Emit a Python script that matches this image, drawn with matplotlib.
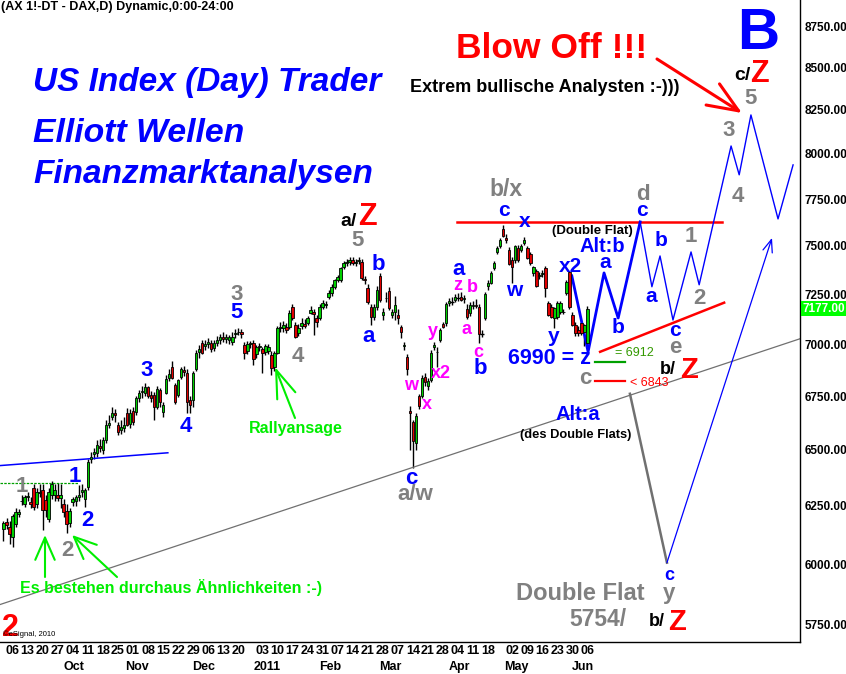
import numpy as np
import matplotlib
matplotlib.use("Agg")
import matplotlib.pyplot as plt
from matplotlib.ticker import FixedLocator, NullLocator
from matplotlib.transforms import blended_transform_factory

plt.rcParams['font.family'] = ['Liberation Sans', 'DejaVu Sans']

# ---------------- data (daily FDAX candles, Sep 2010 - Jun 2011) ----------------
opens = [6150, 6180, 6160, 6113, 6169, 6215, 6270, 6256, 6287, 6265,
         6327, 6256, 6305, 6318, 6274, 6191, 6300, 6300, 6300, 6285,
         6256, 6226, 6175, 6265, 6270, 6290, 6309, 6280, 6335, 6460,
         6480, 6488, 6520, 6501, 6547, 6615, 6653, 6672, 6616, 6590,
         6600, 6672, 6620, 6680, 6677, 6742, 6770, 6766, 6794, 6757,
         6757, 6700, 6780, 6677, 6766, 6835, 6890, 6804, 6757, 6842,
         6875, 6862, 6733, 6733, 6881, 6960, 7007, 6990, 7000, 7007,
         6980, 7005, 7022, 7036, 7025, 7020, 7012, 7050, 7062, 7062,
         6997, 6965, 7000, 7007, 6950, 6985, 6975, 6963, 6965, 6948,
         6890, 6958, 7080, 7082, 7086, 7086, 7186, 7095, 7056, 7090,
         7100, 7105, 7156, 7160, 7130, 7131, 7186, 7195, 7237, 7255,
         7287, 7323, 7323, 7390, 7410, 7418, 7426, 7412, 7420, 7416,
         7330, 7282, 7186, 7136, 7186, 7343, 7146, 7231, 7267, 7146,
         7161, 7146, 7086, 6990, 6940, 6680, 6630, 6533, 6752, 6752,
         6842, 6799, 6828, 6987, 6963, 7022, 7100, 7105, 7205, 7211,
         7221, 7231, 7237, 7225, 7176, 7156, 7190, 7196, 7186, 7051,
         7131, 7290, 7308, 7385, 7470, 7497, 7590, 7540, 7480, 7426,
         7426, 7490, 7480, 7515, 7490, 7458, 7359, 7369, 7345, 7355,
         7385, 7206, 7186, 7131, 7136, 7161, 7161, 7257, 7364, 7146,
         7095, 7070, 7105, 7061, 7007]
highs = [6185, 6195, 6182, 6215, 6240, 6235, 6300, 6300, 6310, 6290,
         6345, 6330, 6345, 6345, 6300, 6330, 6360, 6345, 6350, 6345,
         6280, 6260, 6240, 6290, 6300, 6340, 6345, 6330, 6460, 6490,
         6510, 6545, 6550, 6560, 6640, 6660, 6700, 6690, 6630, 6640,
         6650, 6695, 6690, 6700, 6750, 6780, 6800, 6810, 6800, 6775,
         6770, 6800, 6790, 6720, 6850, 6880, 6920, 6810, 6830, 6890,
         6895, 6880, 6750, 6870, 6970, 6995, 7020, 7020, 7030, 7020,
         7020, 7040, 7050, 7060, 7050, 7045, 7060, 7075, 7080, 7075,
         7010, 7015, 7015, 7020, 6995, 7005, 6985, 7000, 7000, 6965,
         6965, 7090, 7110, 7115, 7105, 7170, 7200, 7110, 7100, 7130,
         7125, 7140, 7190, 7175, 7145, 7200, 7220, 7215, 7270, 7300,
         7330, 7350, 7390, 7420, 7430, 7440, 7440, 7430, 7443, 7430,
         7345, 7300, 7200, 7200, 7290, 7360, 7180, 7260, 7285, 7175,
         7240, 7175, 7095, 7010, 6950, 6705, 6640, 6670, 6760, 6850,
         6860, 6835, 6970, 7010, 6985, 7080, 7110, 7210, 7230, 7235,
         7250, 7255, 7260, 7245, 7200, 7210, 7215, 7225, 7200, 7070,
         7260, 7320, 7370, 7420, 7500, 7540, 7611, 7560, 7495, 7440,
         7505, 7505, 7510, 7545, 7500, 7470, 7395, 7380, 7365, 7375,
         7395, 7215, 7200, 7185, 7215, 7215, 7175, 7320, 7370, 7160,
         7110, 7090, 7120, 7100, 7190]
lows = [6096, 6150, 6083, 6071, 6160, 6200, 6255, 6245, 6270, 6240,
        6230, 6240, 6290, 6147, 6200, 6180, 6280, 6270, 6270, 6240,
        6200, 6134, 6160, 6250, 6250, 6270, 6290, 6243, 6320, 6440,
        6460, 6470, 6490, 6480, 6530, 6600, 6640, 6630, 6570, 6575,
        6580, 6610, 6600, 6615, 6660, 6720, 6740, 6750, 6740, 6720,
        6639, 6690, 6700, 6650, 6760, 6820, 6830, 6715, 6745, 6830,
        6845, 6672, 6672, 6700, 6870, 6935, 6950, 6970, 6980, 6960,
        6965, 6990, 7000, 7010, 7005, 7000, 6995, 7030, 7045, 7030,
        6930, 6950, 6980, 6900, 6935, 6965, 6862, 6945, 6950, 6852,
        6870, 6950, 7060, 7060, 7055, 7075, 7120, 7030, 7040, 7075,
        7080, 7095, 7150, 7046, 7085, 7120, 7175, 7180, 7225, 7240,
        7275, 7310, 7310, 7380, 7395, 7400, 7400, 7395, 7405, 7320,
        7300, 7200, 7095, 7120, 7170, 7210, 7120, 7210, 7170, 7130,
        7120, 7100, 7030, 6970, 6850, 6500, 6420, 6500, 6690, 6740,
        6800, 6780, 6815, 6970, 6890, 7010, 7080, 7090, 7190, 7195,
        7210, 7215, 7215, 7205, 7125, 7140, 7175, 7180, 7007, 7035,
        7120, 7270, 7300, 7375, 7455, 7490, 7545, 7515, 7400, 7308,
        7410, 7415, 7470, 7505, 7430, 7400, 7345, 7285, 7330, 7340,
        7237, 7140, 7130, 7081, 7125, 7150, 7150, 7245, 7175, 7090,
        7040, 7040, 7045, 6992, 6990]
closes = [6177, 6165, 6126, 6204, 6221, 6225, 6272, 6287, 6295, 6258,
          6247, 6309, 6310, 6230, 6230, 6309, 6345, 6318, 6285, 6300,
          6221, 6169, 6226, 6278, 6290, 6300, 6322, 6318, 6447, 6470,
          6492, 6524, 6510, 6547, 6616, 6625, 6672, 6660, 6584, 6605,
          6616, 6616, 6672, 6630, 6742, 6766, 6775, 6794, 6752, 6742,
          6700, 6785, 6720, 6709, 6833, 6855, 6838, 6723, 6828, 6881,
          6865, 6723, 6709, 6862, 6958, 6975, 6958, 7003, 7012, 6975,
          7005, 7020, 7036, 7025, 7035, 7034, 7036, 7055, 7058, 7048,
          6958, 7002, 7007, 6930, 6985, 6992, 6958, 6990, 6988, 6885,
          6958, 7081, 7086, 7095, 7071, 7156, 7131, 7036, 7081, 7105,
          7090, 7131, 7171, 7150, 7110, 7186, 7206, 7202, 7255, 7287,
          7323, 7339, 7385, 7411, 7416, 7426, 7411, 7418, 7426, 7333,
          7323, 7210, 7136, 7186, 7272, 7221, 7161, 7233, 7181, 7161,
          7196, 7131, 7061, 6995, 6881, 6672, 6540, 6655, 6705, 6838,
          6818, 6823, 6958, 6997, 6960, 7071, 7086, 7201, 7215, 7211,
          7237, 7231, 7221, 7231, 7136, 7196, 7196, 7190, 7051, 7051,
          7252, 7308, 7360, 7411, 7490, 7532, 7550, 7531, 7405, 7390,
          7497, 7426, 7497, 7531, 7436, 7411, 7390, 7293, 7350, 7360,
          7282, 7146, 7136, 7181, 7206, 7206, 7160, 7313, 7186, 7096,
          7056, 7056, 7056, 7095, 7177]

# weekly (Monday) axis labels, by bar index
week_bars = [3, 8, 13, 18, 23, 28, 33, 38, 43, 48, 53, 58, 63, 68, 73, 78,
             86, 91, 96, 101, 106, 111, 116, 121, 126, 131, 136, 141, 146,
             151, 156, 161, 169, 174, 179, 184, 189, 194]
week_labels = ['06', '13', '20', '27', '04', '11', '18', '25', '01', '08', '15',
               '22', '29', '06', '13', '20', '03', '10', '17', '24', '31', '07',
               '14', '21', '28', '07', '14', '21', '28', '04', '11', '18', '02',
               '09', '16', '23', '30', '06']
month_bars = [22, 43, 65, 86, 107, 127, 150, 169, 191]
month_labels = ['Oct', 'Nov', 'Dec', '2011', 'Feb', 'Mar', 'Apr', 'May', 'Jun']
y_ticks = [5750, 6000, 6250, 6500, 6750, 7000, 7250, 7500, 7750, 8000, 8250, 8500, 8750]
last_price = 7177

# drawn trend lines / projections (bar index, price)
blue_tl_x, blue_tl_y = [-1.2, 54.6], [6429, 6487]
green_lvl_x, green_lvl_y = [-1.2, 24.8], [6353, 6353]
long_tl_x, long_tl_y = [-1.2, 264.6], [5832, 7027]
resist_x, resist_y = [150.7, 238.7], [7625, 7625]
rise_x, rise_y = [198.2, 239.4], [6963, 7207]
lvl6912_x, lvl6912_y = [196.5, 206.5], [6912, 6912]
lvl6843_x, lvl6843_y = [196.5, 206.5], [6822, 6822]
altb_x = [188.8, 194.2, 199.5, 204.2, 211.5]
altb_y = [7344, 6963, 7359, 7130, 7627]
main_x = [211.5, 215.4, 218.1, 222.4, 228.4, 231.1, 241.7, 244.4, 248.3, 257.3, 262.3]
main_y = [7627, 7288, 7447, 7120, 7468, 7298, 8044, 7883, 8221, 7643, 7938]
alta_x, alta_y = [208.1, 220.4], [6761, 6006]
rebound_x, rebound_y = [220.4, 255.3], [6006, 7542]

# ---------------- figure ----------------
W, H = 846, 674
fig = plt.figure(figsize=(W / 100, H / 100), dpi=100)
fig.patch.set_facecolor('white')
ax = fig.add_axes([0, 1 - 642 / H, 800 / W, 642 / H])
ax.set_facecolor('white')

GREEN_C = '#00d000'
RED_C = '#e00000'
BL, GR, MG, RD, BK, LG = '#0000ff', '#808080', '#ff00ff', '#ff0000', 'black', '#00ee00'

o = np.array(opens, float); h = np.array(highs, float)
l = np.array(lows, float); c = np.array(closes, float)
idx = np.arange(len(c))
up, dn, dj = c > o, c < o, c == o

ax.vlines(idx, l, h, color='black', lw=1.0, zorder=2)
ax.bar(idx[up], (c - o)[up], bottom=o[up], width=0.82, color=GREEN_C,
       edgecolor='black', linewidth=0.6, zorder=3)
ax.bar(idx[dn], (o - c)[dn], bottom=c[dn], width=0.82, color=RED_C,
       edgecolor='black', linewidth=0.6, zorder=3)
ax.hlines(o[dj], idx[dj] - 0.55, idx[dj] + 0.55, color='black', lw=1.0, zorder=3)

ax.plot(blue_tl_x, blue_tl_y, color=BL, lw=1.1)
ax.plot(green_lvl_x, green_lvl_y, color='#00a000', lw=0.9, ls=(0, (2, 1)))
ax.plot(long_tl_x, long_tl_y, color='#707070', lw=0.9)
ax.plot(resist_x, resist_y, color=RD, lw=1.8)
ax.plot(rise_x, rise_y, color=RD, lw=1.8)
ax.plot(lvl6912_x, lvl6912_y, color='#00a000', lw=1.6)
ax.plot(lvl6843_x, lvl6843_y, color=RD, lw=1.6)
ax.plot(altb_x, altb_y, color=BL, lw=2.0)
ax.plot(main_x, main_y, color=BL, lw=1.0)
ax.plot(alta_x, alta_y, color='#707070', lw=1.8)
ax.annotate('', xy=(rebound_x[1], rebound_y[1]), xytext=(rebound_x[0], rebound_y[0]),
            arrowprops=dict(arrowstyle='->,head_length=0.9,head_width=0.35', color=BL,
                            lw=0.9, shrinkA=0, shrinkB=0, mutation_scale=10))

ax.set_yscale('log')
ax.set_ylim(5681, 8911)
ax.set_xlim(-1.16, 264.6)
ax.yaxis.set_major_locator(FixedLocator(y_ticks))
ax.yaxis.set_minor_locator(NullLocator())
ax.set_yticklabels(['%.2f' % v for v in y_ticks])
ax.yaxis.tick_right()
ax.tick_params(axis='y', length=0, pad=3, labelsize=8.5)
for t in ax.get_yticklabels():
    t.set_fontweight('bold')
ax.set_xticks(week_bars)
ax.set_xticklabels(week_labels)
ax.tick_params(axis='x', length=0, pad=2, labelsize=9)
for t in ax.get_xticklabels():
    t.set_fontweight('bold')
for s in ['left', 'top']:
    ax.spines[s].set_visible(False)
for s in ['right', 'bottom']:
    ax.spines[s].set_color('black')
    ax.spines[s].set_linewidth(1.0)

tr_x = blended_transform_factory(ax.transData, ax.transAxes)
for mb, ml in zip(month_bars, month_labels):
    ax.text(mb + 1.5, -25 / 642, ml, transform=tr_x, ha='center', va='center',
            fontsize=9, fontweight='bold', clip_on=False)

tr_y = blended_transform_factory(ax.transAxes, ax.transData)
ax.text(1.003, last_price, '%.2f' % last_price, transform=tr_y, ha='left', va='center',
        color='white', fontsize=8.5, fontweight='bold', clip_on=False,
        bbox=dict(boxstyle='square,pad=0.12', fc='#00ff00', ec='none'))


def put(px, py, s, color, size, weight='bold', style='normal', ha='center', va='center'):
    fig.text(px / W, 1 - py / H, s, color=color, fontsize=size, fontweight=weight,
             fontstyle=style, ha=ha, va=va)


def arrow(tail, tip, color, lw, hl, hw):
    ax.annotate('', xy=(tip[0], H - tip[1]), xycoords='figure pixels',
                xytext=(tail[0], H - tail[1]), textcoords='figure pixels',
                arrowprops=dict(arrowstyle='->,head_length=%g,head_width=%g' % (hl, hw),
                                color=color, lw=lw, shrinkA=0, shrinkB=0, mutation_scale=10))


labels = [
    ("(AX 1!-DT - DAX,D) Dynamic,0:00-24:00", 1, 7, BK, 9, 'bold', 'normal', 'left'),
    ("US Index (Day) Trader", 33, 83, BL, 24, 'bold', 'italic', 'left'),
    ("Elliott Wellen", 33, 133, BL, 24.3, 'bold', 'italic', 'left'),
    ("Finanzmarktanalysen", 33, 175, BL, 24, 'bold', 'italic', 'left'),
    ("Blow Off !!!", 552, 48, RD, 25.5, 'bold', 'normal', 'center'),
    ("Extrem bullische Analysten :-)))", 545, 87, BK, 13, 'bold', 'normal', 'center'),
    ("B", 758, 34, BL, 42, 'bold', 'normal', 'center'),
    ("c/", 742, 76, BK, 14, 'bold', 'normal', 'center'),
    ("Z", 759, 74, RD, 22, 'bold', 'normal', 'center'),
    ("5", 751, 98, GR, 16, 'bold', 'normal', 'center'),
    ("3", 729, 130, GR, 16, 'bold', 'normal', 'center'),
    ("4", 738, 196, GR, 16, 'bold', 'normal', 'center'),
    ("d", 643, 194, GR, 16, 'bold', 'normal', 'center'),
    ("c", 642, 211, BL, 15, 'bold', 'normal', 'center'),
    ("(Double Flat)", 592, 231, BK, 9.5, 'bold', 'normal', 'center'),
    ("Alt:b", 602, 246, BL, 14.5, 'bold', 'normal', 'center'),
    ("a", 605, 263, BL, 15, 'bold', 'normal', 'center'),
    ("b", 661, 240, BL, 15, 'bold', 'normal', 'center'),
    ("1", 691, 237, GR, 16, 'bold', 'normal', 'center'),
    ("x2", 570, 266, BL, 15, 'bold', 'normal', 'center'),
    ("a", 651, 297, BL, 15, 'bold', 'normal', 'center'),
    ("2", 699, 298, GR, 16, 'bold', 'normal', 'center'),
    ("b", 618, 328, BL, 15, 'bold', 'normal', 'center'),
    ("c", 675, 331, BL, 15, 'bold', 'normal', 'center'),
    ("e", 675, 348, GR, 16, 'bold', 'normal', 'center'),
    ("6990 = z", 549, 359, BL, 15.5, 'bold', 'normal', 'center'),
    ("= 6912", 634, 353, '#339900', 9, 'normal', 'normal', 'center'),
    ("c", 585, 379, GR, 16, 'bold', 'normal', 'center'),
    ("< 6843", 649, 383, RD, 9, 'normal', 'normal', 'center'),
    ("b/", 668, 370, BK, 13, 'bold', 'normal', 'center'),
    ("Z", 689, 370, RD, 21, 'bold', 'normal', 'center'),
    ("Alt:a", 578, 414, BL, 14.5, 'bold', 'normal', 'center'),
    ("(des Double Flats)", 576, 435, BK, 9.3, 'bold', 'normal', 'center'),
    ("c", 669, 576, BL, 13, 'bold', 'normal', 'center'),
    ("y", 669, 593, GR, 16, 'bold', 'normal', 'center'),
    ("Double Flat", 580, 593, GR, 17, 'bold', 'normal', 'center'),
    ("5754/", 598, 620, GR, 16.5, 'bold', 'normal', 'center'),
    ("b/", 657, 621, BK, 13, 'bold', 'normal', 'center'),
    ("Z", 677, 622, RD, 21, 'bold', 'normal', 'center'),
    ("2", 10, 628, RD, 22, 'bold', 'normal', 'center'),
    ("\u00a9eSignal, 2010", 3, 634, BK, 5.5, 'normal', 'normal', 'left'),
    ("b/x", 506, 189, GR, 16.5, 'bold', 'normal', 'center'),
    ("c", 504, 211, BL, 15, 'bold', 'normal', 'center'),
    ("x", 525, 222, BL, 15, 'bold', 'normal', 'center'),
    ("a/", 348, 221, BK, 14, 'bold', 'normal', 'center'),
    ("Z", 367, 217, RD, 22, 'bold', 'normal', 'center'),
    ("5", 358, 241, GR, 16, 'bold', 'normal', 'center'),
    ("b", 378, 264, BL, 16, 'bold', 'normal', 'center'),
    ("a", 369, 337, BL, 16, 'bold', 'normal', 'center'),
    ("3", 237, 295, GR, 16, 'bold', 'normal', 'center'),
    ("5", 237, 313, BL, 16, 'bold', 'normal', 'center'),
    ("4", 298, 356, GR, 16, 'bold', 'normal', 'center'),
    ("3", 147, 371, BL, 16, 'bold', 'normal', 'center'),
    ("4", 186, 427, BL, 16, 'bold', 'normal', 'center'),
    ("1", 75, 477, BL, 16, 'bold', 'normal', 'center'),
    ("1", 22, 487, GR, 16, 'bold', 'normal', 'center'),
    ("2", 87, 521, BL, 16, 'bold', 'normal', 'center'),
    ("2", 67, 550, GR, 16, 'bold', 'normal', 'center'),
    ("Rallyansage", 296, 428, LG, 11.5, 'bold', 'normal', 'center'),
    ("Es bestehen durchaus \u00c4hnlichkeiten :-)", 171, 588, LG, 11.5, 'bold', 'normal', 'center'),
    ("a", 459, 269, BL, 16, 'bold', 'normal', 'center'),
    ("z", 458, 285, MG, 13, 'bold', 'normal', 'center'),
    ("b", 472, 288, MG, 13, 'bold', 'normal', 'center'),
    ("a", 466, 330, MG, 13, 'bold', 'normal', 'center'),
    ("c", 478, 352, MG, 13, 'bold', 'normal', 'center'),
    ("b", 480, 368, BL, 16, 'bold', 'normal', 'center'),
    ("y", 433, 332, MG, 13, 'bold', 'normal', 'center'),
    ("x2", 441, 374, MG, 13, 'bold', 'normal', 'center'),
    ("w", 411, 385, MG, 13, 'bold', 'normal', 'center'),
    ("x", 427, 404, MG, 13, 'bold', 'normal', 'center'),
    ("c", 411, 478, BL, 16, 'bold', 'normal', 'center'),
    ("a/w", 415, 495, GR, 16, 'bold', 'normal', 'center'),
    ("w", 514, 291, BL, 15, 'bold', 'normal', 'center'),
    ("y", 554, 337, BL, 15, 'bold', 'normal', 'center'),
]
for s, px, py, col, sz, wt, st, ha in labels:
    put(px, py, s, col, sz, wt, st, ha)

arrow((657, 59), (742, 113), RD, 2.2, 2.2, 0.9)
arrow((295, 418), (275, 367), LG, 1.5, 2.0, 0.7)
arrow((45, 577), (45, 535), LG, 1.5, 1.6, 0.7)
arrow((117, 577), (72, 535), LG, 1.5, 1.6, 0.7)

fig.savefig('out.png', dpi=100, facecolor='white')
